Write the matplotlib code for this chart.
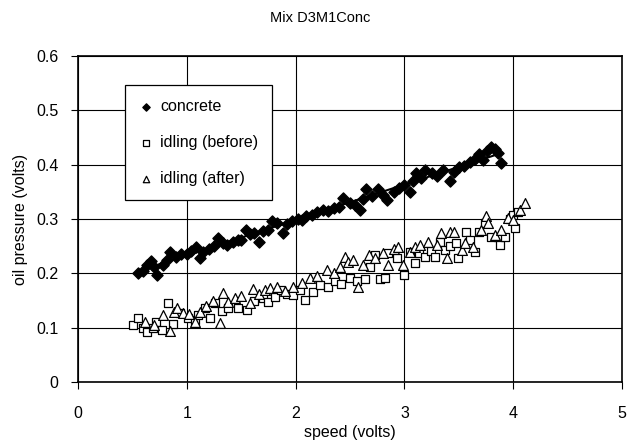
import numpy as np
import matplotlib
matplotlib.use("Agg")
import matplotlib.pyplot as plt

plt.rcParams['font.family'] = ['Liberation Sans', 'DejaVu Sans']

title = "Mix D3M1Conc"
x_label = "speed (volts)"
y_label = "oil pressure (volts)"
x_ticks = [0, 1, 2, 3, 4, 5]
y_ticks = [0, 0.1, 0.2, 0.3, 0.4, 0.5, 0.6]
y_tick_labels = ["0", "0.1", "0.2", "0.3", "0.4", "0.5", "0.6"]

concrete_x = [0.55, 0.60, 0.63, 0.67, 0.70, 0.73, 0.78, 0.82, 0.85, 0.90, 0.95, 1.00,
              1.04, 1.08, 1.12, 1.15, 1.20, 1.25, 1.29, 1.33, 1.37, 1.42, 1.47, 1.50,
              1.54, 1.58, 1.62, 1.66, 1.70, 1.75, 1.78, 1.83, 1.88, 1.92, 1.97, 2.02,
              2.06, 2.10, 2.15, 2.20, 2.25, 2.30, 2.35, 2.40, 2.44, 2.50, 2.55, 2.59,
              2.62, 2.65, 2.70, 2.76, 2.80, 2.84, 2.90, 2.95, 3.00, 3.05, 3.08, 3.11,
              3.15, 3.19, 3.25, 3.30, 3.35, 3.42, 3.46, 3.50, 3.55, 3.60, 3.65, 3.69,
              3.72, 3.76, 3.80, 3.83, 3.86, 3.89]
concrete_y = [0.200, 0.205, 0.215, 0.222, 0.212, 0.197, 0.215, 0.225, 0.240, 0.230, 0.236, 0.235,
              0.242, 0.249, 0.228, 0.240, 0.245, 0.250, 0.265, 0.255, 0.252, 0.258, 0.262, 0.262,
              0.280, 0.272, 0.275, 0.258, 0.278, 0.280, 0.296, 0.292, 0.274, 0.290, 0.296, 0.300,
              0.298, 0.305, 0.308, 0.312, 0.317, 0.315, 0.320, 0.322, 0.338, 0.330, 0.325, 0.317,
              0.336, 0.356, 0.342, 0.355, 0.345, 0.335, 0.350, 0.357, 0.362, 0.350, 0.370, 0.384,
              0.375, 0.390, 0.385, 0.380, 0.390, 0.370, 0.386, 0.395, 0.398, 0.405, 0.410, 0.420,
              0.408, 0.425, 0.433, 0.428, 0.422, 0.403]

before_x = [0.51, 0.55, 0.60, 0.63, 0.69, 0.72, 0.77, 0.83, 0.875, 0.94, 1.01, 1.075,
            1.10, 1.17, 1.21, 1.26, 1.32, 1.38, 1.47, 1.55, 1.62, 1.70, 1.75, 1.81,
            1.87, 1.92, 1.98, 2.04, 2.09, 2.16, 2.22, 2.30, 2.36, 2.42, 2.50, 2.56,
            2.64, 2.68, 2.73, 2.78, 2.82, 2.85, 2.93, 3.00, 3.05, 3.10, 3.13, 3.19,
            3.24, 3.28, 3.33, 3.37, 3.42, 3.47, 3.49, 3.57, 3.60, 3.65, 3.69, 3.74,
            3.80, 3.86, 3.88, 3.92, 3.97, 4.00, 4.02, 4.04]
before_y = [0.105, 0.118, 0.100, 0.092, 0.100, 0.111, 0.096, 0.146, 0.107, 0.127, 0.118, 0.114,
            0.123, 0.136, 0.118, 0.145, 0.130, 0.136, 0.136, 0.132, 0.150, 0.155, 0.148, 0.157,
            0.170, 0.162, 0.160, 0.170, 0.151, 0.166, 0.178, 0.175, 0.185, 0.180, 0.192, 0.185,
            0.189, 0.212, 0.234, 0.190, 0.191, 0.238, 0.228, 0.197, 0.240, 0.219, 0.237, 0.230,
            0.242, 0.230, 0.258, 0.243, 0.250, 0.256, 0.228, 0.277, 0.261, 0.240, 0.277, 0.292,
            0.267, 0.267, 0.252, 0.267, 0.300, 0.307, 0.283, 0.313]

after_x = [0.62, 0.70, 0.78, 0.845, 0.88, 0.91, 0.965, 1.02, 1.075, 1.12, 1.18, 1.24,
           1.305, 1.33, 1.38, 1.44, 1.50, 1.58, 1.61, 1.66, 1.72, 1.76, 1.83, 1.90,
           1.98, 2.06, 2.13, 2.20, 2.29, 2.35, 2.41, 2.45, 2.48, 2.53, 2.57, 2.62,
           2.67, 2.73, 2.80, 2.85, 2.90, 2.94, 2.99, 3.05, 3.10, 3.14, 3.22, 3.30,
           3.34, 3.39, 3.42, 3.46, 3.53, 3.56, 3.63, 3.70, 3.75, 3.77, 3.83, 3.89,
           3.95, 4.00, 4.06, 4.11]
after_y = [0.110, 0.105, 0.123, 0.093, 0.128, 0.136, 0.127, 0.125, 0.111, 0.128, 0.140, 0.150,
           0.108, 0.164, 0.148, 0.154, 0.158, 0.145, 0.171, 0.162, 0.170, 0.173, 0.175, 0.168,
           0.175, 0.182, 0.191, 0.195, 0.206, 0.200, 0.212, 0.230, 0.221, 0.225, 0.175, 0.215,
           0.234, 0.228, 0.238, 0.215, 0.245, 0.249, 0.215, 0.240, 0.248, 0.252, 0.258, 0.252,
           0.275, 0.228, 0.277, 0.277, 0.243, 0.256, 0.249, 0.280, 0.305, 0.292, 0.270, 0.280,
           0.302, 0.298, 0.317, 0.330]

fig = plt.figure(figsize=(6.41, 4.47), dpi=100)
ax = fig.add_axes([0.1217, 0.1454, 0.8487, 0.7293])

ax.grid(True, color='black', linewidth=0.8)
ax.set_axisbelow(True)

ax.scatter(before_x, before_y, marker='s', s=38, facecolors='white',
           edgecolors='black', linewidths=0.9, label='idling (before)', zorder=3)
ax.scatter(after_x, after_y, marker='^', s=50, facecolors='white',
           edgecolors='black', linewidths=0.9, label='idling (after)', zorder=3)
ax.scatter(concrete_x, concrete_y, marker='D', s=32, color='black',
           label='concrete', zorder=4)

coef = np.polyfit(concrete_x, concrete_y, 1)
fx = np.array([min(concrete_x), max(concrete_x)])
ax.plot(fx, np.polyval(coef, fx), color='black', linewidth=1.5, zorder=5)

ax.set_xlim(0, 5)
ax.set_ylim(0, 0.6)
ax.set_xticks(x_ticks)
ax.set_xticklabels([str(t) for t in x_ticks])
ax.set_yticks(y_ticks)
ax.set_yticklabels(y_tick_labels)
ax.tick_params(direction='out', length=5, width=0.8, labelsize=11.5)
ax.tick_params(axis='y', pad=9)
ax.tick_params(axis='x', pad=12)
for s in ax.spines.values():
    s.set_linewidth(1.2)
    s.set_color('black')

ax.set_xlabel(x_label, fontsize=11.5, labelpad=3)
ax.set_ylabel(y_label, fontsize=11.5, labelpad=6)
fig.text(0.5, 1 - 18 / 447, title, ha='center', va='center', fontsize=10.5)

handles, labels = ax.get_legend_handles_labels()
order = [2, 0, 1]
leg = ax.legend([handles[i] for i in order], [labels[i] for i in order],
                loc='upper left', bbox_to_anchor=(0.086, 0.911),
                fontsize=11.5, frameon=True, fancybox=False, framealpha=1,
                edgecolor='black', labelspacing=1.3, handlelength=0.8,
                handletextpad=0.5, borderpad=0.9, borderaxespad=0,
                markerscale=0.65, scatterpoints=1)
leg.get_frame().set_linewidth(0.9)
leg.set_zorder(10)

fig.savefig('out.png', dpi=100)
